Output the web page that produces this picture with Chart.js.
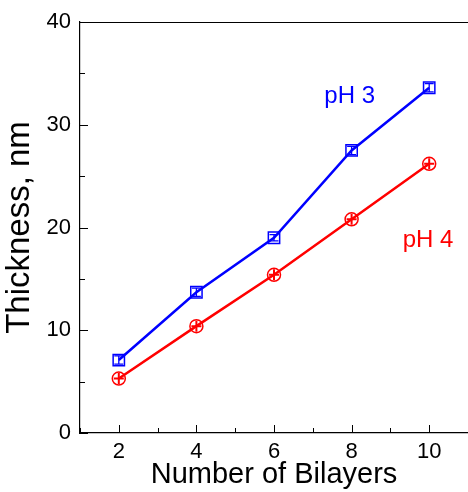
<!DOCTYPE html>
<html>
<head>
<meta charset="utf-8">
<script src="https://cdn.jsdelivr.net/npm/chart.js@4/dist/chart.umd.min.js"></script>
<style>
  html, body { margin: 0; padding: 0; background: #fff; }
  #wrap { width: 468px; height: 492px; }
</style>
</head>
<body>
<div id="wrap"><canvas id="c" width="468" height="492"></canvas></div>
<script>
const bilayers = [2, 4, 6, 8, 10]
const ph3 = [7.1, 13.7, 19.0, 27.5, 33.6]
const ph3Err = [0.4, 0.4, 0.3, 0.4, 0.4]
const ph4 = [5.3, 10.4, 15.4, 20.8, 26.2]
const ph4Err = [0.4, 0.4, 0.4, 0.4, 0.4]
const xTicks = [2, 4, 6, 8, 10]
const yTicks = [0, 10, 20, 30, 40]

const font = "'Liberation Sans', Arial, sans-serif"

// inside ticks, minor ticks, top frame, error bars and series labels
const frame = {
  id: "frame",
  afterDatasetsDraw(chart) {
    const { ctx, chartArea: a, scales: { x, y } } = chart
    ctx.save()
    ctx.strokeStyle = "#000"
    ctx.lineWidth = 1
    ctx.beginPath()
    ctx.moveTo(a.left, a.top + 0.5)
    ctx.lineTo(a.right, a.top + 0.5)
    for (let v = 1; v <= 11; v++) {
      const px = Math.round(x.getPixelForValue(v)) + 0.5
      const len = v % 2 === 0 ? 8 : 5
      ctx.moveTo(px, a.bottom)
      ctx.lineTo(px, a.bottom - len)
    }
    for (let v = 0; v <= 40; v += 5) {
      const py = Math.round(y.getPixelForValue(v)) + 0.5
      const len = v % 10 === 0 ? 8 : 5
      ctx.moveTo(a.left, py)
      ctx.lineTo(a.left + len, py)
    }
    ctx.stroke()

    chart.data.datasets.forEach((ds, i) => {
      const meta = chart.getDatasetMeta(i)
      ctx.strokeStyle = ds.borderColor
      ctx.lineWidth = ds.cross ? 2 : 1.3
      meta.data.forEach((pt, j) => {
        const e = ds.errs[j]
        const top = y.getPixelForValue(ds.data[j].y + e)
        const bot = y.getPixelForValue(ds.data[j].y - e)
        ctx.beginPath()
        if (ds.cross) {
          ctx.moveTo(pt.x, pt.y - 5.5)
          ctx.lineTo(pt.x, pt.y + 5.5)
          ctx.moveTo(pt.x - 5, pt.y)
          ctx.lineTo(pt.x + 5, pt.y)
        } else {
          ctx.moveTo(pt.x, top)
          ctx.lineTo(pt.x, bot)
          ctx.moveTo(pt.x - 4.5, top)
          ctx.lineTo(pt.x + 4.5, top)
          ctx.moveTo(pt.x - 4.5, bot)
          ctx.lineTo(pt.x + 4.5, bot)
        }
        ctx.stroke()
      })
    })

    ctx.font = "24px " + font
    ctx.textAlign = "center"
    ctx.textBaseline = "alphabetic"
    ctx.fillStyle = "#0000ff"
    ctx.fillText("pH 3", x.getPixelForValue(7.95), y.getPixelForValue(32.1))
    ctx.fillStyle = "#ff0000"
    ctx.fillText("pH 4", x.getPixelForValue(9.97), y.getPixelForValue(18.1))
    ctx.restore()
  }
}

new Chart(document.getElementById("c"), {
  type: "line",
  data: {
    datasets: [{
      label: "pH 3",
      data: bilayers.map((b, i) => ({ x: b, y: ph3[i] })),
      errs: ph3Err,
      borderColor: "#0000ff",
      backgroundColor: "rgba(0,0,0,0)",
      borderWidth: 2.5,
      pointStyle: "rect",
      pointRadius: 8,
      pointBorderWidth: 1.5,
      tension: 0
    }, {
      label: "pH 4",
      data: bilayers.map((b, i) => ({ x: b, y: ph4[i] })),
      errs: ph4Err,
      cross: true,
      borderColor: "#ff0000",
      backgroundColor: "rgba(0,0,0,0)",
      borderWidth: 2.5,
      pointStyle: "circle",
      pointRadius: 6.5,
      pointBorderWidth: 1.5,
      tension: 0
    }]
  },
  options: {
    responsive: false,
    animation: false,
    layout: { autoPadding: false, padding: { top: 22, right: 0, left: 0, bottom: 0 } },
    plugins: { legend: { display: false }, tooltip: { enabled: false } },
    scales: {
      x: {
        type: "linear",
        min: 1,
        max: 11,
        afterBuildTicks: s => { s.ticks = xTicks.map(v => ({ value: v })) },
        afterFit: s => { s.height = 59; s.paddingLeft = 0; s.paddingRight = 0 },
        grid: { display: false, drawTicks: false },
        border: { display: true, color: "#000", width: 1.2 },
        ticks: { color: "#000", font: { family: font, size: 22 }, padding: 6 },
        title: { display: true, text: "Number of Bilayers", color: "#000", font: { family: font, size: 29 }, padding: { top: -2, bottom: 0 } }
      },
      y: {
        min: 0,
        max: 40,
        afterBuildTicks: s => { s.ticks = yTicks.map(v => ({ value: v })) },
        afterFit: s => { s.width = 80; s.paddingTop = 0; s.paddingBottom = 0 },
        grid: { display: false, drawTicks: false },
        border: { display: true, color: "#000", width: 1.2 },
        ticks: { color: "#000", font: { family: font, size: 22 }, padding: 9 },
        title: { display: true, text: "Thickness, nm", color: "#000", font: { family: font, size: 33 }, padding: { top: 0, bottom: 0 } }
      }
    }
  },
  plugins: [frame]
})
</script>
</body>
</html>
